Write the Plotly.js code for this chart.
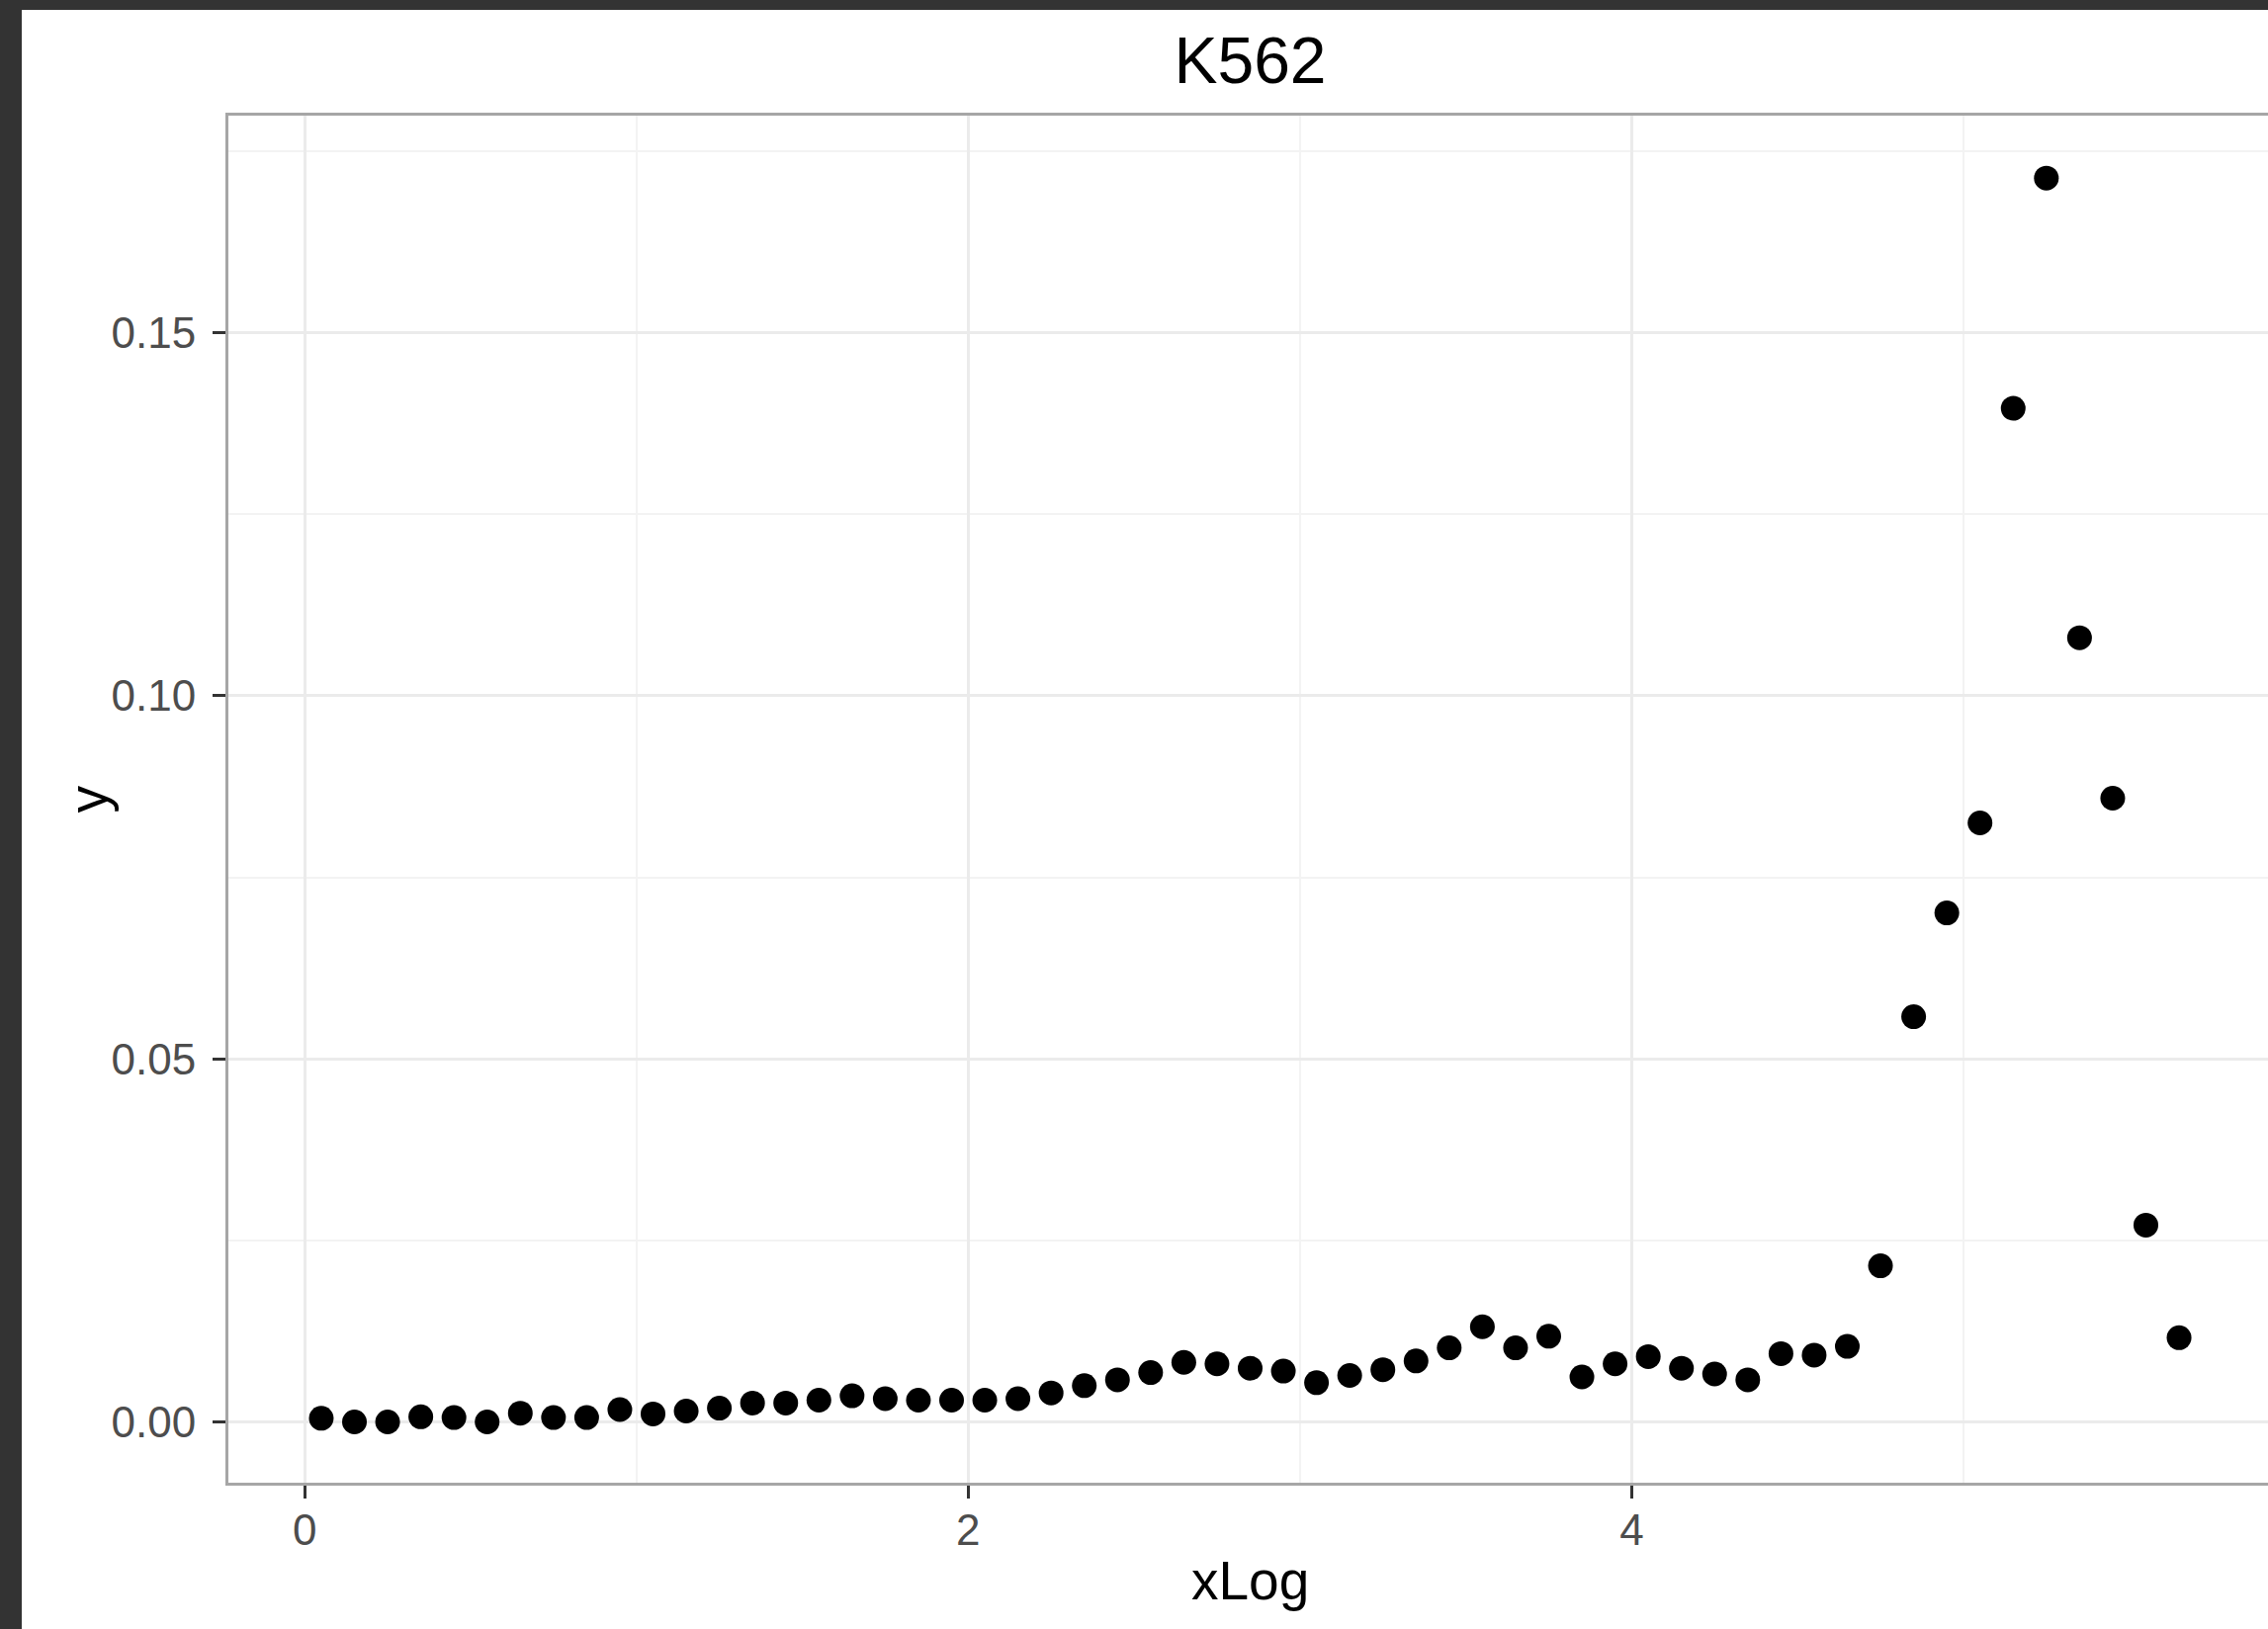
<!DOCTYPE html>
<html>
<head>
<meta charset="utf-8">
<script src="https://cdn.plot.ly/plotly-3.0.1.min.js"></script>
<style>
html, body { margin: 0; padding: 0; width: 2294px; height: 1648px; overflow: hidden; background: #333333; }
#frame { position: absolute; left: 22px; top: 10px; width: 2290px; height: 1638px; background: #ffffff; }
#chart { width: 2290px; height: 1638px; }
</style>
</head>
<body>
<div id="frame"><div id="chart"></div></div>
<script>
const chartTitle = "K562";
const xTitle = "xLog";
const yTitle = "y";

const xLog = [0.05,0.15,0.25,0.35,0.45,0.55,0.65,0.75,0.85,0.95,
  1.05,1.15,1.25,1.35,1.45,1.55,1.65,1.75,1.85,1.95,
  2.05,2.15,2.25,2.35,2.45,2.55,2.65,2.75,2.85,2.95,
  3.05,3.15,3.25,3.35,3.45,3.55,3.65,3.75,3.85,3.95,
  4.05,4.15,4.25,4.35,4.45,4.55,4.65,4.75,4.85,4.95,
  5.05,5.15,5.25,5.35,5.45,5.55,5.65];

const yVal = [0.0005,0.0000,0.0000,0.0007,0.0006,0.0000,0.0012,0.0006,0.0006,0.0017,
  0.0011,0.0015,0.0019,0.0026,0.0026,0.0030,0.0036,0.0032,0.0030,0.0030,
  0.0030,0.0032,0.0040,0.0050,0.0058,0.0068,0.0082,0.0080,0.0074,0.0070,
  0.0054,0.0064,0.0072,0.0084,0.0102,0.0131,0.0102,0.0118,0.0062,0.0080,
  0.0090,0.0074,0.0066,0.0058,0.0094,0.0092,0.0104,0.0215,0.0558,0.0701,
  0.0825,0.1396,0.1713,0.1080,0.0859,0.0271,0.0116];

const xTickVals = [0, 2, 4];
const xTickText = ["0", "2", "4"];
const yTickVals = [0.00, 0.05, 0.10, 0.15];
const yTickText = ["0.00", "0.05", "0.10", "0.15"];

const fontFam = "Liberation Sans, Arial, Helvetica, sans-serif";

const trace = {
  x: xLog,
  y: yVal,
  type: "scatter",
  mode: "markers",
  marker: { color: "#000000", size: 25, line: { width: 0 } },
  hoverinfo: "x+y"
};

const axisCommon = {
  showgrid: true,
  gridcolor: "#ebebeb",
  gridwidth: 3,
  zeroline: false,
  showline: true,
  mirror: true,
  linecolor: "#a6a6a6",
  linewidth: 3,
  ticks: "outside",
  ticklen: 13,
  tickwidth: 3,
  tickcolor: "#333333",
  tickfont: { family: fontFam, size: 44, color: "#4d4d4d" },
  automargin: false
};

const layout = {
  width: 2290,
  height: 1638,
  paper_bgcolor: "#ffffff",
  plot_bgcolor: "#ffffff",
  showlegend: false,
  margin: { l: 209, r: 14, t: 107, b: 148 },
  font: { family: fontFam, color: "#000000" },
  title: {
    text: chartTitle,
    font: { family: fontFam, size: 66, color: "#000000" },
    x: 0.5, xref: "paper", xanchor: "center",
    y: 1 - 51 / 1638, yref: "container", yanchor: "middle"
  },
  xaxis: Object.assign({}, axisCommon, {
    range: [-0.23, 5.93],
    tickmode: "array",
    tickvals: xTickVals,
    ticktext: xTickText,
    ticklabelstandoff: -6,
    minor: { dtick: 1, tick0: 0, showgrid: true, gridcolor: "#f3f3f3", gridwidth: 2, ticks: "" }
  }),
  yaxis: Object.assign({}, axisCommon, {
    range: [-0.00837, 0.1799],
    tickmode: "array",
    tickvals: yTickVals,
    ticktext: yTickText,
    ticklabelstandoff: 8,
    minor: { dtick: 0.025, tick0: 0, showgrid: true, gridcolor: "#f3f3f3", gridwidth: 2, ticks: "" }
  }),
  annotations: [
    {
      text: xTitle, showarrow: false,
      xref: "paper", yref: "paper", x: 0.5, y: 0,
      xanchor: "center", yanchor: "middle", yshift: -99,
      font: { family: fontFam, size: 55, color: "#000000" }
    },
    {
      text: yTitle, showarrow: false, textangle: -90,
      xref: "paper", yref: "paper", x: 0, y: 0.5,
      xanchor: "center", yanchor: "middle", xshift: -143,
      font: { family: fontFam, size: 55, color: "#000000" }
    }
  ]
};

Plotly.newPlot("chart", [trace], layout, { displayModeBar: false, staticPlot: true });
</script>
</body>
</html>
